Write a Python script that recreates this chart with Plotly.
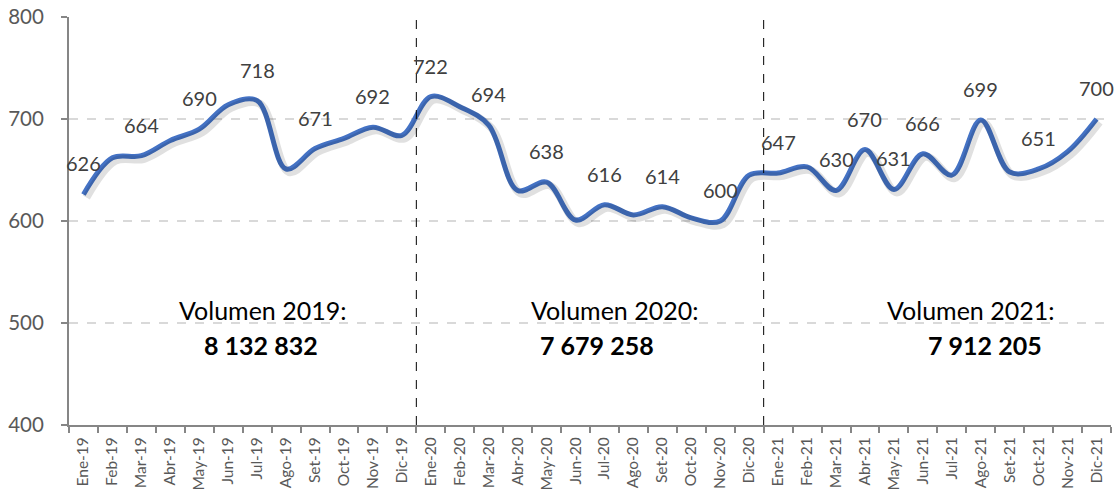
import plotly.graph_objects as go

months = ["Ene-19","Feb-19","Mar-19","Abr-19","May-19","Jun-19","Jul-19","Ago-19","Set-19","Oct-19","Nov-19","Dic-19",
          "Ene-20","Feb-20","Mar-20","Abr-20","May-20","Jun-20","Jul-20","Ago-20","Set-20","Oct-20","Nov-20","Dic-20",
          "Ene-21","Feb-21","Mar-21","Abr-21","May-21","Jun-21","Jul-21","Ago-21","Set-21","Oct-21","Nov-21","Dic-21"]
values = [626, 662, 664, 679, 690, 714, 718, 651, 671, 681, 692, 684,
          722, 712, 694, 630, 638, 601, 616, 606, 614, 603, 600, 645,
          647, 653, 630, 670, 631, 666, 645, 699, 648, 651, 668, 700]
labeled_months = ["Ene-19","Mar-19","May-19","Jul-19","Set-19","Nov-19","Ene-20","Mar-20","May-20","Jul-20",
                  "Set-20","Nov-20","Ene-21","Mar-21","Abr-21","May-21","Jun-21","Ago-21","Oct-21","Dic-21"]
year_titles = ["Volumen 2019:", "Volumen 2020:", "Volumen 2021:"]
year_volumes = ["8 132 832", "7 679 258", "7 912 205"]
title_pos = [6.17, 18.36, 30.63]
volume_pos = [6.13, 17.74, 31.15]
dividers = [11.5, 23.5]

FONT = "Lato"
fig = go.Figure()

# soft shadow under the line
fig.add_trace(go.Scatter(x=months, y=values, mode="lines", line=dict(color="rgba(0,0,0,0.12)", width=8, shape="spline", smoothing=1),
                         xaxis="x2", yaxis="y2", hoverinfo="skip", showlegend=False))
fig.add_trace(go.Scatter(x=months, y=values, mode="lines", line=dict(color="#4472C4", width=5, shape="spline", smoothing=1),
                         showlegend=False))

for m, v in zip(months, values):
    if m in labeled_months:
        fig.add_annotation(x=m, y=v, text=str(v), showarrow=False, yshift=31,
                           font=dict(family=FONT, size=20, color="#404040"))

for t, v, xt, xv in zip(year_titles, year_volumes, title_pos, volume_pos):
    fig.add_annotation(x=xt, y=512.7, text=t, showarrow=False, font=dict(family=FONT, size=25, color="#000000"))
    fig.add_annotation(x=xv, y=478.4, text="<b>" + v + "</b>", showarrow=False, font=dict(family=FONT, size=25, color="#000000"))

for d in dividers:
    fig.add_shape(type="line", x0=d, x1=d, y0=400, y1=800, xref="x", yref="y",
                  line=dict(color="#000000", width=1, dash="dash"))

fig.update_layout(
    width=1117, height=492,
    margin=dict(l=69, r=6, t=17, b=67),
    paper_bgcolor="white", plot_bgcolor="white",
    font=dict(family=FONT),
    xaxis=dict(type="category", categoryorder="array", categoryarray=months, range=[-0.5, 35.5],
               showline=True, linecolor="#868686", linewidth=2, ticks="outside", tickson="boundaries",
               ticklen=6, tickcolor="#868686", tickwidth=1.5, tickangle=-90, showgrid=False,
               ticklabelstandoff=4, ticklabeloverflow="allow",
               tickfont=dict(family=FONT, size=15.5, color="#595959"), automargin=False, zeroline=False),
    yaxis=dict(range=[400, 800], tickvals=[400, 500, 600, 700, 800], showline=True, linecolor="#868686", linewidth=2,
               ticks="outside", ticklen=6, tickcolor="#868686", tickwidth=1.5, ticklabelstandoff=13,
               ticklabeloverflow="allow",
               showgrid=True, gridcolor="#d9d9d9", gridwidth=1.5, griddash="dash",
               tickfont=dict(family=FONT, size=20.5, color="#595959"), automargin=False, zeroline=False),
    xaxis2=dict(type="category", categoryorder="array", categoryarray=months, range=[-0.6, 35.4], overlaying="x",
                visible=False, showgrid=False),
    yaxis2=dict(range=[403, 803], overlaying="y", visible=False, showgrid=False),
)

# remove the page's default body margin so the figure fills the window exactly
fig.write_html("out.html", config={"displayModeBar": False},
               post_script="document.body.style.margin='0';document.body.style.overflow='hidden';")
